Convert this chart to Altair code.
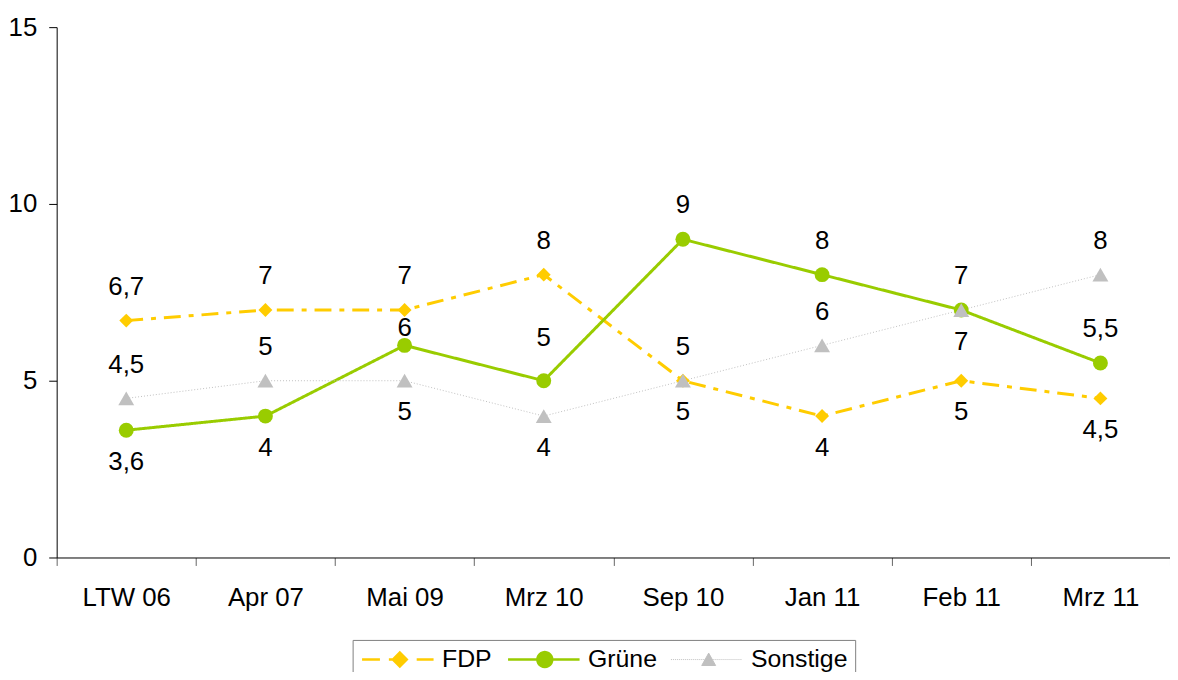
import math
import altair as alt
import pandas as pd

# ---------------- data ----------------
kategorien = ["LTW 06", "Apr 07", "Mai 09", "Mrz 10", "Sep 10", "Jan 11", "Feb 11", "Mrz 11"]
parteien = ["FDP", "Grüne", "Sonstige"]
fdp = [6.7, 7, 7, 8, 5, 4, 5, 4.5]
gruene = [3.6, 4, 6, 5, 9, 8, 7, 5.5]
sonstige = [4.5, 5, 5, 4, 5, 6, 7, 8]
# label side: o = oben, u = unten, k = knapp oben, w = weit oben
fdp_seite = ["o", "o", "o", "o", "u", "u", "u", "u"]
gruene_seite = ["u", "u", "k", "w", "o", "o", "u", "o"]
sonstige_seite = ["o", "o", "u", "u", "o", "o", "o", "o"]
y_ticks = [0, 5, 10, 15]

# ---------------- style ----------------
farben = ["#FFCC00", "#99CC00", "#C0C0C0"]
dashes = [[17, 8, 5, 8], [1, 0], [1, 2]]
widths = [3, 3, 1]
legend_widths = [2.5, 2.5, 1]
shapes = ["diamond", "circle", "triangle-up"]
sizes = [196, 225, 256]
label_dy = {"o": -34, "u": 32, "k": -17, "w": -43}
FONT = "Liberation Sans"
FS = 26

rows = []
for partei, werte, seiten in zip(parteien, [fdp, gruene, sonstige],
                                 [fdp_seite, gruene_seite, sonstige_seite]):
    for k, v, s in zip(kategorien, werte, seiten):
        rows.append({"Umfrage": k, "Partei": partei, "Wert": v, "Seite": s,
                     "Label": f"{v:g}".replace(".", ",")})
df = pd.DataFrame(rows)

x = alt.X("Umfrage:N", sort=kategorien,
          scale=alt.Scale(type="band", paddingInner=0, paddingOuter=0),
          axis=alt.Axis(title=None, labelAngle=0, tickBand="extent", tickSize=8,
                        labelPadding=19, labelFont=FONT, labelFontSize=FS,
                        labelColor="black", domainColor="black", tickColor="#666666"))
y = alt.Y("Wert:Q", scale=alt.Scale(domain=[0, 15], nice=False),
          axis=alt.Axis(title=None, values=y_ticks, grid=False, tickSize=8,
                        labelPadding=12, labelFont=FONT, labelFontSize=FS,
                        labelColor="black", domainColor="black", tickColor="black"))

base = alt.Chart(df)
layers = []
for p, c, d, w in zip(parteien, farben, dashes, widths):
    layers.append(base.transform_filter(alt.datum.Partei == p).mark_line(
        color=c, strokeDash=d, strokeWidth=w).encode(x=x, y=y))
for p, c, s, sz in zip(parteien, farben, shapes, sizes):
    layers.append(base.transform_filter(alt.datum.Partei == p).mark_point(
        filled=True, color=c, shape=s, size=sz, opacity=1).encode(x=x, y=y))
for code, dy in label_dy.items():
    layers.append(base.transform_filter(alt.datum.Seite == code).mark_text(
        font=FONT, fontSize=FS, color="black", baseline="middle", dy=dy).encode(
        x=x, y=y, text="Label:N"))

# ---------------- legend (custom symbols: line + marker) ----------------
def seg(a, b):
    return f"M{a:.2f},0L{b:.2f},0"

fdp_pfad = seg(-1, 0.8) + seg(1.7, 2.3) + "M2.1,0L2.8,-0.7L3.5,0L2.8,0.7Z" + seg(4.5, 6.2)
kreis = "M" + "L".join(
    f"{2.7 + 0.75 * math.cos(2 * math.pi * i / 24):.3f},{0.75 * math.sin(2 * math.pi * i / 24):.3f}"
    for i in range(24)) + "Z"
gruene_pfad = seg(-1, 6.2) + kreis
punkte = "".join(seg(-1 + 0.2 * i, -1 + 0.2 * i + 0.1) for i in range(36))
sonstige_pfad = punkte + "M2.1,0.6L3.5,0.6L2.8,-0.65Z"

legend = alt.Legend(
    title=None, orient="none", legendX=298, legendY=617, direction="horizontal",
    columns=3, labelFont=FONT, labelFontSize=25, labelColor="black",
    labelOffset=58, columnPadding=11, symbolSize=400, symbolOpacity=1,
    strokeColor="#808080", fillColor="white", padding=7)

farbskala = alt.Scale(domain=parteien, range=farben)
legend_layer = base.mark_point(filled=True, opacity=0).encode(
    x=x, y=y,
    shape=alt.Shape("Partei:N", scale=alt.Scale(
        domain=parteien, range=[fdp_pfad, gruene_pfad, sonstige_pfad]), legend=legend),
    fill=alt.Fill("Partei:N", scale=farbskala, legend=legend),
    stroke=alt.Stroke("Partei:N", scale=farbskala, legend=legend),
    strokeWidth=alt.StrokeWidth("Partei:N", scale=alt.Scale(
        type="ordinal", domain=parteien, range=legend_widths), legend=legend),
)
layers.append(legend_layer)

chart = alt.layer(*layers).properties(
    width=1121, height=534,
    autosize=alt.AutoSizeParams(type="none"),
    padding={"left": 49, "top": 17, "right": 0, "bottom": 113},
    background="white",
).configure_view(stroke=None)

chart.save("out.html", embed_options={"renderer": "svg", "actions": False})
